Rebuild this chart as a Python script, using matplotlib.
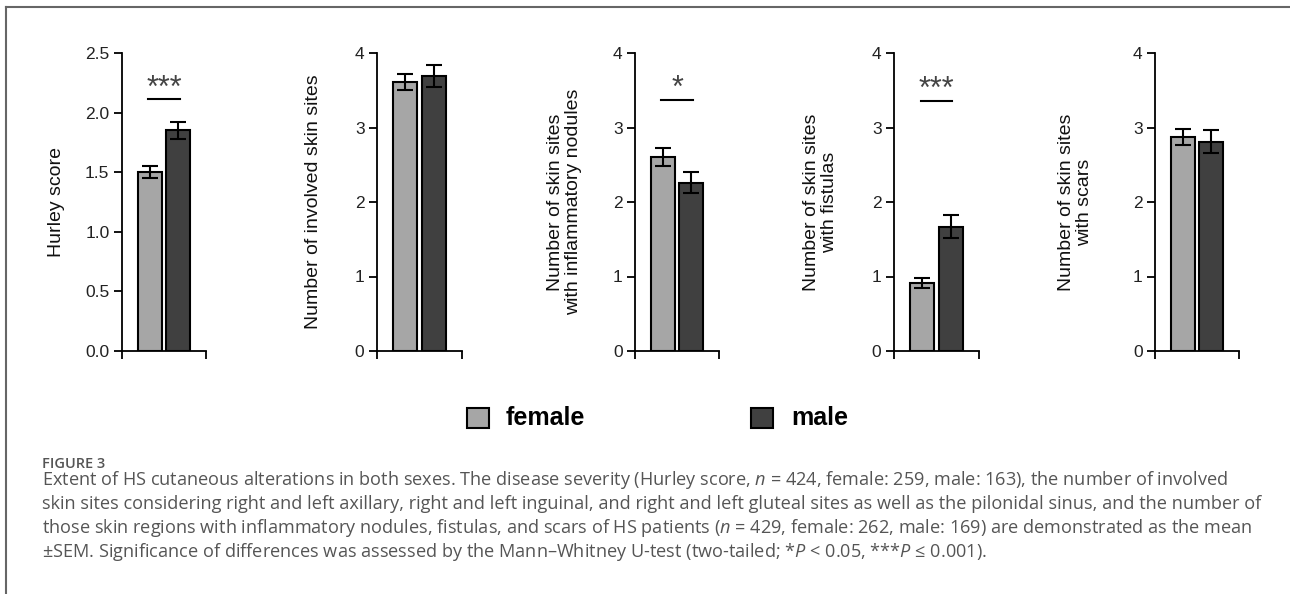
import matplotlib.pyplot as plt
from matplotlib.lines import Line2D
from matplotlib.patches import Rectangle

plt.rcParams['font.family'] = ['Liberation Sans', 'DejaVu Sans']
plt.rcParams['mathtext.fontset'] = 'custom'
plt.rcParams['mathtext.rm'] = 'Open Sans'
plt.rcParams['mathtext.it'] = 'Open Sans:italic'

# data (mean, SEM)
groups = ["female", "male"]
female_mean = [1.50, 3.61, 2.60, 0.91, 2.87]
female_sem = [0.05, 0.11, 0.12, 0.07, 0.11]
male_mean = [1.85, 3.69, 2.26, 1.67, 2.81]
male_sem = [0.07, 0.15, 0.14, 0.15, 0.15]
ylabels = ["Hurley score",
           "Number of involved skin sites",
           "Number of skin sites\nwith inflammatory nodules",
           "Number of skin sites\nwith fistulas",
           "Number of skin sites\nwith scars"]
ymax = [2.5, 4, 4, 4, 4]
yticks = [[0.0, 0.5, 1.0, 1.5, 2.0, 2.5], [0, 1, 2, 3, 4], [0, 1, 2, 3, 4],
          [0, 1, 2, 3, 4], [0, 1, 2, 3, 4]]
ticklabels = [["0.0", "0.5", "1.0", "1.5", "2.0", "2.5"]] + [["0", "1", "2", "3", "4"]] * 4
signif = ["***", "", "*", "***", ""]
sig_level = [2.11, None, 3.37, 3.36, None]

female_color = "#a6a6a6"
male_color = "#404040"

W, H = 1290, 594
fig = plt.figure(figsize=(W / 100, H / 100), dpi=100)

# panel placement in pixels: axis left, axis right
panel_x = [(122, 206), (377, 462), (635, 719), (894, 979), (1155, 1239)]
label_right = [65, 322, 582, 838, 1093]
top_px, bot_px = 53, 351

xpos = [0, 1.2]
xlim = (-1.15, 2.35)

for i in range(5):
    x0, x1 = panel_x[i]
    ax = fig.add_axes([x0 / W, 1 - bot_px / H, (x1 - x0) / W, (bot_px - top_px) / H])
    ax.bar(xpos, [female_mean[i], male_mean[i]], width=1.0,
           color=[female_color, male_color], edgecolor="black", linewidth=1.5,
           yerr=[female_sem[i], male_sem[i]], capsize=5.5,
           error_kw=dict(elinewidth=1.5, capthick=1.5, ecolor="black"), zorder=2)
    ax.set_xlim(*xlim)
    ax.set_ylim(0, ymax[i])
    ax.set_yticks(yticks[i])
    ax.set_yticklabels(ticklabels[i], fontsize=12.5, color="#222222")
    ax.set_xticks([xlim[0], xlim[1]])
    ax.set_xticklabels([])
    ax.tick_params(axis="both", direction="out", length=6, width=1.3, pad=3)
    for s in ["top", "right"]:
        ax.spines[s].set_visible(False)
    for s in ["left", "bottom"]:
        ax.spines[s].set_linewidth(1.3)
    ax.set_ylabel(ylabels[i], fontsize=14, color="#111111", linespacing=1.1)
    ax.yaxis.set_label_coords((label_right[i] - x0) / (x1 - x0), 0.5)
    if signif[i]:
        y = sig_level[i]
        ax.plot([xpos[0] - 0.05, xpos[1] + 0.05], [y, y], color="black", lw=1.5, clip_on=False)
        ax.annotate(signif[i], xy=(sum(xpos) / 2, y), xytext=(0, -3), textcoords="offset points",
                    ha="center", va="bottom", fontsize=22, color="#444444")

# legend
fig.patches.append(Rectangle((467 / W, 1 - 428 / H), 22 / W, 20 / H, transform=fig.transFigure,
                             facecolor=female_color, edgecolor="black", linewidth=1.5))
fig.patches.append(Rectangle((751 / W, 1 - 428 / H), 22 / W, 20 / H, transform=fig.transFigure,
                             facecolor=male_color, edgecolor="black", linewidth=1.5))
fig.text(506 / W, 1 - 418 / H, groups[0], fontsize=18, fontweight="bold", va="center", ha="left")
fig.text(791 / W, 1 - 418 / H, groups[1], fontsize=18, fontweight="bold", va="center", ha="left")

# frame lines
fig.add_artist(Line2D([6 / W, 1], [1 - 7 / H, 1 - 7 / H], transform=fig.transFigure, color="#666666", lw=1.5))
fig.add_artist(Line2D([6 / W, 6 / W], [1 - 7 / H, 0], transform=fig.transFigure, color="#666666", lw=1.5))

# caption
cap_font = ['Open Sans', 'DejaVu Sans']
fig.text(42 / W, 1 - 468 / H, "FIGURE 3", fontsize=10.5, fontweight="semibold", color="#555555",
         family=cap_font, va="baseline")
caption_lines = [
    "Extent of HS cutaneous alterations in both sexes. The disease severity (Hurley score, $n$ = 424, female: 259, male: 163), the number of involved",
    "skin sites considering right and left axillary, right and left inguinal, and right and left gluteal sites as well as the pilonidal sinus, and the number of",
    "those skin regions with inflammatory nodules, fistulas, and scars of HS patients ($n$ = 429, female: 262, male: 169) are demonstrated as the mean",
    "±SEM. Significance of differences was assessed by the Mann–Whitney U-test (two-tailed; *$P$ < 0.05, ***$P$ ≤ 0.001).",
]
for k, line in enumerate(caption_lines):
    fig.text(42 / W, 1 - (485 + 24 * k) / H, line, fontsize=13.1, color="#555555",
             family=cap_font, va="baseline")

fig.savefig("out.png", dpi=100)
